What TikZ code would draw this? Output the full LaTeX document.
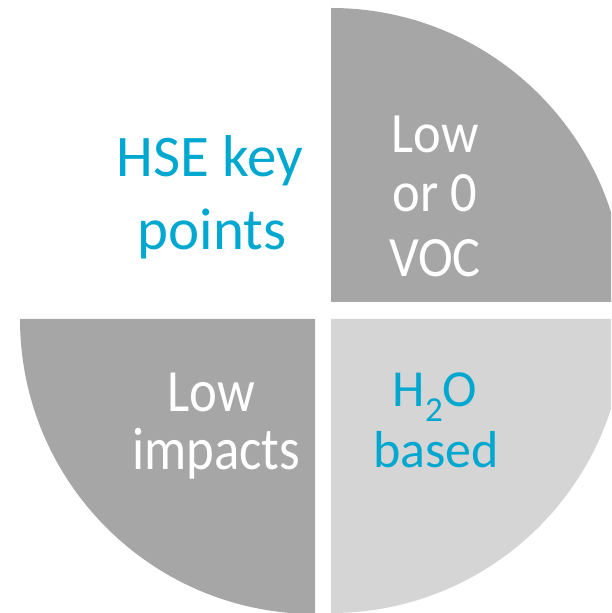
\documentclass[tikz,border=0pt]{standalone}
\usepackage{fontspec}
\setmainfont{Carlito}
\newfontfamily\narrowA[FakeStretch=0.92]{Carlito}
\newfontfamily\narrowB[FakeStretch=0.88]{Carlito}
\definecolor{darkq}{HTML}{A6A6A6}
\definecolor{lightq}{HTML}{D5D5D5}
\definecolor{hsecyan}{HTML}{00A8D0}
\tikzset{
  quarter/.style={draw=none},
  cyantext/.style={text=hsecyan, inner sep=0pt, anchor=base, font=\fontsize{59}{70}\selectfont},
  vocline/.style={text=white, inner sep=0pt, anchor=base, font=\narrowA\fontsize{57}{66}\selectfont},
  impline/.style={text=white, inner sep=0pt, anchor=base, font=\narrowB\fontsize{60}{72}\selectfont},
  waterline/.style={text=hsecyan, inner sep=0pt, anchor=base, font=\fontsize{52}{62}\selectfont}
}
\begin{document}
\begin{tikzpicture}[x=1pt,y=1pt]
\useasboundingbox (0,0) rectangle (611,613);
\clip (0,0) rectangle (611,613);
% quarters
\fill[darkq, quarter] (331,311) -- (625,311) arc[start angle=0, end angle=90, radius=294] -- cycle;
\fill[darkq, quarter] (315,294) -- (20,294) arc[start angle=180, end angle=270, radius=295] -- cycle;
\fill[lightq, quarter] (331,294) -- (331,0) arc[start angle=270, end angle=360, radius=294] -- cycle;
% HSE key points
\node[cyantext] (hse1) at (210,436) {HSE key};
\node[cyantext] (hse2) at (212,363) {points};
% Low or 0 VOC
\node[vocline] (voc1) at (435,460) {Low};
\node[vocline] (voc2) at (435,401) {or 0};
\node[vocline] (voc3) at (435,336) {VOC};
% Low impacts
\node[impline] (imp1) at (211,201) {Low};
\node[impline] (imp2) at (216,143) {impacts};
% H2O based
\node[waterline] (wat1) at (435,206) {H\raisebox{-15pt}{\fontsize{35}{35}\selectfont 2}O};
\node[waterline] (wat2) at (436,145) {based};
\end{tikzpicture}
\end{document}
